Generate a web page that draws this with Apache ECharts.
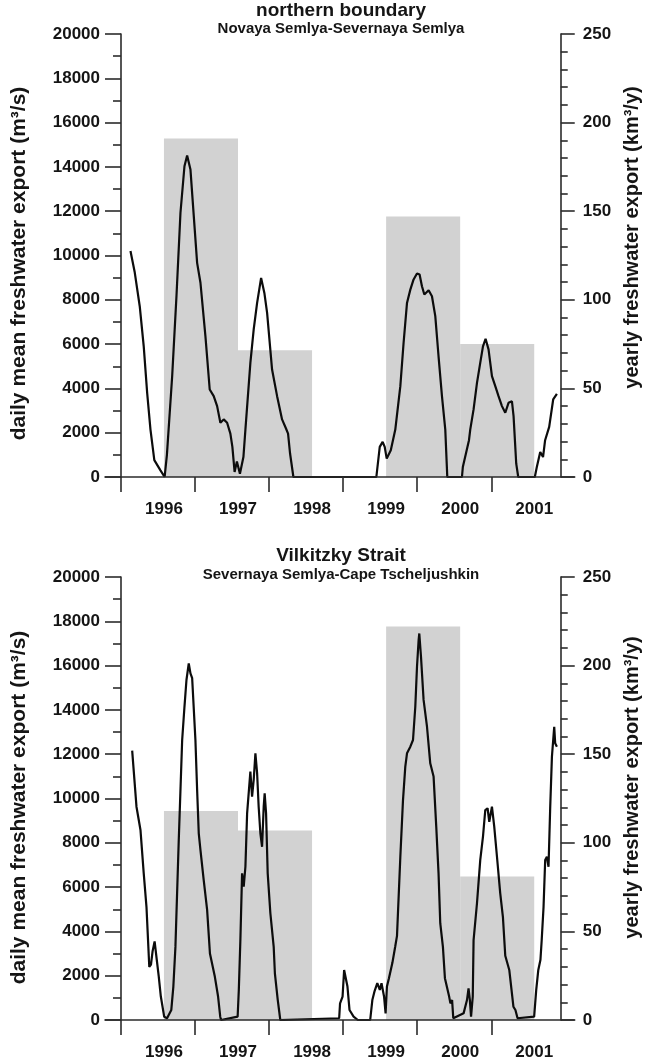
<!DOCTYPE html>
<html>
<head>
<meta charset="utf-8">
<script src="https://cdn.jsdelivr.net/npm/echarts@6/dist/echarts.min.js"></script>
<style>
  html, body { margin: 0; padding: 0; background: #fff; }
  #chart { width: 650px; height: 1064px; }
</style>
</head>
<body>
<div id="chart"></div>
<script>
// Daily mean freshwater export (m³/s), time in decimal years
const northYear = [1995.548,1995.606,1995.673,1995.727,1995.773,1995.818,1995.870,1995.953,1996.009,1996.040,
  1996.111,1996.169,1996.223,1996.277,1996.313,1996.358,1996.448,1996.493,1996.560,1996.618,
  1996.672,1996.718,1996.762,1996.807,1996.853,1996.897,1996.924,1996.954,1996.985,1997.026,
  1997.073,1997.100,1997.167,1997.212,1997.258,1997.312,1997.356,1997.393,1997.460,1997.528,
  1997.595,1997.648,1997.676,1997.703,1997.748,1998.868,1998.914,1998.953,1998.981,1999.008,
  1999.063,1999.124,1999.192,1999.236,1999.282,1999.327,1999.371,1999.417,1999.452,1999.484,
  1999.516,1999.574,1999.619,1999.664,1999.708,1999.754,1999.799,1999.826,2000.024,2000.036,
  2000.119,2000.136,2000.181,2000.227,2000.271,2000.308,2000.343,2000.383,2000.429,2000.474,
  2000.518,2000.564,2000.609,2000.653,2000.699,2000.721,2000.757,2000.784,2001.008,2001.035,
  2001.081,2001.119,2001.147,2001.202,2001.256,2001.306];
const northFlow = [10200,9230,7710,5900,3810,2140,760,300,0,1000,
  4550,8160,11930,14030,14510,13880,9670,8770,6360,3950,
  3650,3200,2450,2600,2450,1960,1360,230,700,150,
  900,2140,5150,6660,7860,8990,8310,7410,4850,3650,
  2600,2190,1960,1060,0,0,1360,1585,1360,830,
  1210,2140,4100,6060,7860,8460,8920,9190,9140,8610,
  8240,8430,8160,7260,5450,3650,2140,0,0,450,
  1660,2140,3050,4250,5150,5900,6240,5760,4550,4100,
  3650,3200,2900,3350,3420,2750,600,0,0,450,
  1130,900,1660,2260,3500,3750];

const vilkYear = [1995.571,1995.629,1995.683,1995.727,1995.764,1995.802,1995.825,1995.846,1995.874,1995.903,
  1995.930,1995.958,1996.003,1996.042,1996.099,1996.127,1996.155,1996.200,1996.246,1996.277,
  1996.304,1996.335,1996.358,1996.381,1996.402,1996.425,1996.448,1996.470,1996.493,1996.537,
  1996.583,1996.621,1996.687,1996.731,1996.760,1996.771,1996.995,1997.011,1997.032,1997.055,
  1997.077,1997.100,1997.123,1997.144,1997.167,1997.190,1997.212,1997.235,1997.258,1997.279,
  1997.302,1997.325,1997.347,1997.360,1997.379,1997.401,1997.437,1997.482,1997.498,1997.537,
  1997.571,1998.366,1998.378,1998.412,1998.433,1998.449,1998.478,1998.506,1998.561,1998.618,
  1998.785,1998.814,1998.842,1998.881,1998.915,1998.938,1998.972,1998.993,1999.011,1999.038,
  1999.084,1999.123,1999.147,1999.192,1999.228,1999.259,1999.282,1999.327,1999.363,1999.394,
  1999.417,1999.439,1999.448,1999.471,1999.506,1999.552,1999.596,1999.641,1999.677,1999.708,
  1999.731,1999.767,1999.794,1999.851,1999.868,1999.891,1999.907,2000.046,2000.092,2000.113,
  2000.131,2000.147,2000.170,2000.181,2000.227,2000.271,2000.308,2000.339,2000.370,2000.393,
  2000.429,2000.460,2000.497,2000.541,2000.577,2000.609,2000.663,2000.719,2000.746,2000.775,
  2000.999,2001.027,2001.055,2001.084,2001.101,2001.126,2001.148,2001.171,2001.193,2001.216,
  2001.239,2001.270,2001.283,2001.306];
const vilkFlow = [12160,9630,8580,6620,5110,2400,2500,3090,3550,2720,
  1960,1060,150,80,450,1510,3300,8130,12640,14140,
  15350,16100,15650,15430,15350,12640,10380,8430,7670,6320,
  4970,3000,1960,1060,150,0,150,1360,3610,6620,
  6020,6920,9330,10230,11210,10080,10840,12040,11140,9630,
  8430,7820,9630,10230,9330,6620,4820,3300,2110,900,
  0,80,750,1060,2260,2260,1510,450,150,0,
  0,900,1280,1660,1360,1660,1060,300,1510,1890,
  2570,3320,3800,7370,9930,11440,12040,12340,12640,14140,
  15950,17150,17450,16400,14450,13240,11590,10990,8730,6620,
  4370,3300,1890,1060,750,900,80,300,900,1430,
  900,150,1060,3610,5270,7220,8280,9480,9560,8950,
  9630,8730,7370,5720,4660,2900,2260,600,450,80,
  150,1360,2260,2720,3610,5110,7220,7370,6920,9630,
  11890,13240,12490,12340];

// Yearly freshwater export (km³/y), one bar per calendar year
const barYears = [1996, 1997, 1999, 2000];
const northYearly = [191, 71.5, 147, 75];
const vilkYearly = [118, 107, 222, 81];

// Axis ticks and labels
const yearLabels = [1996, 1997, 1998, 1999, 2000, 2001];
const yearTicks = [1995.42, 1996.42, 1997.42, 1998.42, 1999.42, 2000.42];

const FONT = 'Liberation Sans, Arial, sans-serif';
const INK = '#151515';
const AXIS = '#2b2b2b';

const pairs = (xs, ys) => xs.map((x, i) => [x, ys[i]]);
const plain = v => String(Math.round(v));

function renderYearBar(params, api) {
  const start = api.value(0);
  const top = api.coord([start, api.value(1)]);
  const base = api.coord([start + 1, 0]);
  return {
    type: 'rect',
    shape: { x: top[0], y: top[1], width: base[0] - top[0], height: base[1] - top[1] },
    style: { fill: '#d2d2d2' }
  };
}

const grids = [
  { left: 105, right: 75, top: 34, height: 443 },
  { left: 105, right: 75, top: 577, height: 443 }
];

function xAxisFor(gi) {
  return {
    type: 'value', gridIndex: gi, min: 1995.204, max: 2001.547, z: 5,
    axisLine: { onZero: false, lineStyle: { color: AXIS, width: 1.6 } },
    axisTick: { customValues: yearTicks, length: 15, lineStyle: { color: AXIS, width: 1.6 } },
    axisLabel: { customValues: yearLabels, formatter: plain, margin: 24, color: INK, fontFamily: FONT, fontWeight: 'bold', fontSize: 17 },
    splitLine: { show: false }
  };
}

// name padding nudges the rotated axis titles along the axis
function leftAxisFor(gi, namePad) {
  return {
    type: 'value', gridIndex: gi, position: 'left', offset: -16, min: 0, max: 20000, interval: 2000, z: 5,
    name: 'daily mean freshwater export (m³/s)', nameLocation: 'middle', nameGap: 91,
    nameTextStyle: { color: INK, fontFamily: FONT, fontWeight: 'bold', fontSize: 21, padding: namePad },
    axisLine: { show: true, onZero: false, lineStyle: { color: AXIS, width: 1.6 } },
    axisTick: { show: true, length: 16, lineStyle: { color: AXIS, width: 1.6 } },
    minorTick: { show: true, splitNumber: 2, length: 8, lineStyle: { color: AXIS, width: 1.6 } },
    axisLabel: { formatter: plain, margin: 21, color: INK, fontFamily: FONT, fontWeight: 'bold', fontSize: 17 },
    splitLine: { show: false }
  };
}

function rightAxisFor(gi, namePad) {
  return {
    type: 'value', gridIndex: gi, position: 'right', offset: -14, min: 0, max: 250, interval: 50, z: 5,
    name: 'yearly freshwater export (km³/y)', nameLocation: 'middle', nameGap: 60,
    nameTextStyle: { color: INK, fontFamily: FONT, fontWeight: 'bold', fontSize: 20, padding: namePad },
    axisLine: { show: true, onZero: false, lineStyle: { color: AXIS, width: 1.6 } },
    axisTick: { show: true, length: 14, lineStyle: { color: AXIS, width: 1.6 } },
    minorTick: { show: true, splitNumber: 5, length: 7, lineStyle: { color: AXIS, width: 1.6 } },
    axisLabel: { formatter: plain, margin: 22, color: INK, fontFamily: FONT, fontWeight: 'bold', fontSize: 17 },
    splitLine: { show: false }
  };
}

function panelSeries(gi, years, flow, yearly) {
  return [
    {
      type: 'custom', xAxisIndex: gi, yAxisIndex: gi * 2 + 1, z: 1,
      renderItem: renderYearBar, encode: { x: 0, y: 1 },
      data: pairs(barYears, yearly), silent: true
    },
    {
      type: 'line', xAxisIndex: gi, yAxisIndex: gi * 2, z: 3,
      showSymbol: false, silent: true,
      lineStyle: { color: '#0c0c0c', width: 2.2 },
      data: pairs(years, flow)
    }
  ];
}

const titleStyle = { color: INK, fontFamily: FONT, fontWeight: 'bold', fontSize: 19 };
const subStyle = { color: INK, fontFamily: FONT, fontWeight: 'bold', fontSize: 15 };

const chart = echarts.init(document.getElementById('chart'), null, { renderer: 'canvas' });
chart.setOption({
  animation: false,
  backgroundColor: '#ffffff',
  title: [
    { text: 'northern boundary', left: 341, top: 1, textAlign: 'center', textStyle: titleStyle, padding: 0 },
    { text: 'Novaya Semlya-Severnaya Semlya', left: 341, top: 21, textAlign: 'center', textStyle: subStyle, padding: 0 },
    { text: 'Vilkitzky Strait', left: 341, top: 546, textAlign: 'center', textStyle: titleStyle, padding: 0 },
    { text: 'Severnaya Semlya-Cape Tscheljushkin', left: 341, top: 567, textAlign: 'center', textStyle: subStyle, padding: 0 }
  ],
  grid: grids,
  xAxis: [xAxisFor(0), xAxisFor(1)],
  yAxis: [
    leftAxisFor(0, [0, 16, 0, 0]), rightAxisFor(0, [0, 0, 0, 36]),
    leftAxisFor(1, [0, 18, 0, 0]), rightAxisFor(1, [0, 0, 0, 22])
  ],
  series: [
    ...panelSeries(0, northYear, northFlow, northYearly),
    ...panelSeries(1, vilkYear, vilkFlow, vilkYearly)
  ]
});
</script>
</body>
</html>
